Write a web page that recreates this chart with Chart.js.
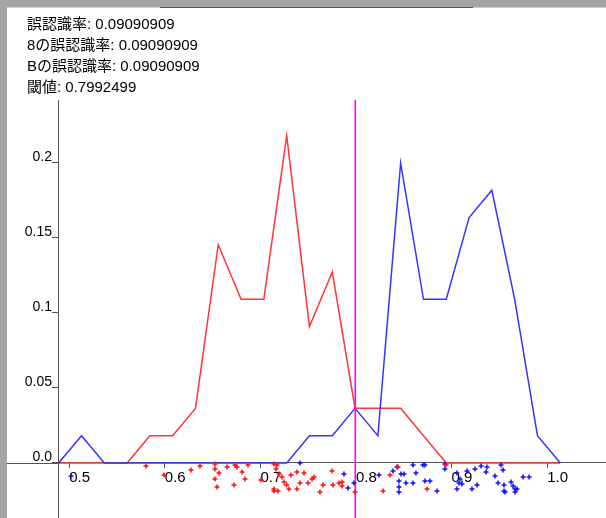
<!DOCTYPE html>
<html>
<head>
<meta charset="utf-8">
<script src="https://cdn.jsdelivr.net/npm/chart.js@4"></script>
<style>
  body { margin: 0; background: #a4a4a4; width: 606px; height: 518px; overflow: hidden; position: relative; }
  #topline1 { position: absolute; left: 7px; top: 7px; width: 153px; height: 1px; background: #d8d8d8; }
  #topline2 { position: absolute; left: 160px; top: 7px; width: 313px; height: 1px; background: #555; }
  #topline3 { position: absolute; left: 473px; top: 7px; width: 133px; height: 1px; background: #c8c8c8; }
  #wrap { position: absolute; left: 7px; top: 8px; width: 599px; height: 510px; background: #fff; }
  canvas { display: block; }
</style>
</head>
<body>
<div id="topline1"></div><div id="topline2"></div><div id="topline3"></div>
<div id="wrap"><canvas id="chartCanvas" width="599" height="510"></canvas></div>
<script>
var headerLines = [
  '誤認識率: 0.09090909',
  '8の誤認識率: 0.09090909',
  'Bの誤認識率: 0.09090909',
  '閾値: 0.7992499'
];

// bin centres (x) and relative frequencies of the two classes
var binX = [0.4890, 0.5129, 0.5367, 0.5605, 0.5844, 0.6082, 0.6321, 0.6559, 0.6798, 0.7036, 0.7275, 0.7513,
            0.7752, 0.7990, 0.8229, 0.8467, 0.8706, 0.8944, 0.9183, 0.9421, 0.9660, 0.9898, 1.0137];
var redFreq = [0, 0, 0, 0, 0.0182, 0.0182, 0.0364, 0.1455, 0.1091, 0.1091, 0.2182, 0.0909,
               0.1273, 0.0364, 0.0364, 0.0364, 0.0182, 0, 0, 0, 0, 0, 0];
var blueFreq = [0, 0.0182, 0, 0, 0, 0, 0, 0, 0, 0, 0, 0.0182,
                0.0182, 0.0364, 0.0182, 0.2, 0.1091, 0.1091, 0.1636, 0.1818, 0.1091, 0.0182, 0];

// samples, drawn below the axis with a little vertical jitter
var redX = [0.5803, 0.5992, 0.6274, 0.6368, 0.6525, 0.6525, 0.6567, 0.6525, 0.6546, 0.6651, 0.6734, 0.6755,
            0.6808, 0.6839, 0.6724, 0.6870, 0.7006, 0.7142, 0.7174, 0.7163, 0.7195, 0.7226, 0.7247, 0.7274,
            0.7142, 0.7184, 0.7142, 0.7319, 0.7382, 0.7456, 0.7299, 0.7382, 0.7414, 0.7498, 0.7540, 0.7561,
            0.7623, 0.7655, 0.7749, 0.7759, 0.7822, 0.7854, 0.7854, 0.7990, 0.8283, 0.8356, 0.8440, 0.8743, 0.8942];
var redY = [-0.002, -0.008, -0.0047, -0.002, -0.0007, -0.004, -0.0067, -0.0107, -0.016, -0.0027, -0.0013, -0.0027,
            -0.006, -0.0107, -0.0147, -0.0013, -0.0113, -0.0007, -0.0013, -0.004, -0.0073, -0.0093, -0.0127, -0.0147,
            -0.0173, -0.0187, -0.0187, -0.008, -0.006, -0.0067, -0.0173, -0.0173, -0.0133, -0.0133, -0.0107, -0.0093,
            -0.0193, -0.0147, -0.0053, -0.0147, -0.0133, -0.0127, -0.0153, -0.0193, -0.0187, -0.008, -0.0027, -0.0173, -0.0013];
var blueX = [0.5019, 0.7414, 0.7874, 0.7916, 0.7979, 0.8240, 0.8387, 0.8429, 0.8471, 0.8502, 0.8450, 0.8523,
             0.8450, 0.8450, 0.8596, 0.8627, 0.8596, 0.8700, 0.8721, 0.8721, 0.8774, 0.8847, 0.8930, 0.8930,
             0.9056, 0.9161, 0.9088, 0.9077, 0.9108, 0.9056, 0.9213, 0.9266, 0.9245, 0.9308, 0.9370, 0.9360,
             0.9454, 0.9517, 0.9538, 0.9486, 0.9548, 0.9548, 0.9559, 0.9622, 0.9643, 0.9664, 0.9684, 0.9664, 0.9748, 0.9811];
var blueY = [-0.0087, 0, -0.0073, -0.0167, -0.0133, -0.008, -0.0053, -0.0027, -0.0073, -0.0073, -0.012, -0.0133,
             -0.016, -0.0193, -0.0013, -0.0067, -0.0133, -0.0013, -0.0013, -0.012, -0.012, -0.0187, -0.0007, -0.004,
             -0.0067, -0.0053, -0.0107, -0.0133, -0.014, -0.0173, -0.0173, -0.0147, -0.004, -0.002, -0.0027, -0.006,
             -0.0087, -0.0013, -0.0047, -0.0133, -0.0147, -0.0187, -0.0193, -0.0127, -0.0153, -0.0173, -0.0173, -0.0193, -0.0093, -0.0093];

var threshold = 0.7992499;
var xTicks = [0.5, 0.6, 0.7, 0.8, 0.9, 1.0];
var yTicks = [0, 0.05, 0.1, 0.15, 0.2];
var xMin = 0.4883, xMax = 1.0615;
var yMin = -0.0367, yMax = 0.242;

function pairs(xs, ys) {
  return xs.map(function(x, i) { return { x: x, y: ys[i] }; });
}

// stop the axes from pulling the plot area in for their end labels
function noPadding(s) {
  s.paddingTop = 0; s.paddingBottom = 0; s.paddingLeft = 0; s.paddingRight = 0;
}

var axisColor = '#555';

var extras = {
  id: 'extras',
  afterDraw: function(chart) {
    var c = chart.ctx;
    var y0 = chart.scales.y.getPixelForValue(0);
    c.save();
    // x axis runs on to the left edge
    c.strokeStyle = axisColor;
    c.lineWidth = 1;
    c.beginPath();
    c.moveTo(0, Math.round(y0) + 0.5);
    c.lineTo(chart.chartArea.left, Math.round(y0) + 0.5);
    c.stroke();
    c.fillStyle = '#000';
    c.font = '15px "Liberation Sans", "Noto Sans CJK JP", sans-serif';
    c.textBaseline = 'middle';
    headerLines.forEach(function(t, i) {
      c.fillText(t, 20, 17 + i * 21);
    });
    c.restore();
  }
};

var ctx = document.getElementById('chartCanvas').getContext('2d');
var chart = new Chart(ctx, {
  type: 'scatter',
  data: {
    datasets: [
      {
        data: pairs(redX, redY),
        pointStyle: 'cross',
        pointRadius: 2.5,
        borderWidth: 1.5,
        borderColor: '#ff1010',
        order: 0
      },
      {
        data: pairs(blueX, blueY),
        pointStyle: 'cross',
        pointRadius: 2.5,
        borderWidth: 1.5,
        borderColor: '#1010ff',
        order: 0
      },
      {
        data: [{ x: threshold, y: yMin }, { x: threshold, y: yMax }],
        showLine: true,
        borderColor: '#ff00ff',
        borderWidth: 1.6,
        pointRadius: 0,
        order: 1
      },
      {
        data: pairs(binX, blueFreq),
        showLine: true,
        borderColor: '#3535ff',
        borderWidth: 1.5,
        pointRadius: 0,
        order: 2
      },
      {
        data: pairs(binX, redFreq),
        showLine: true,
        borderColor: '#ff3535',
        borderWidth: 1.5,
        pointRadius: 0,
        order: 3
      }
    ]
  },
  options: {
    responsive: false,
    animation: false,
    devicePixelRatio: 1,
    layout: { autoPadding: false, padding: { top: 92, left: 0, right: 0, bottom: 0 } },
    plugins: {
      legend: { display: false },
      tooltip: { enabled: false }
    },
    scales: {
      x: {
        type: 'linear',
        min: xMin,
        max: xMax,
        position: { y: 0 },
        afterFit: noPadding,
        afterBuildTicks: function(s) { s.ticks = xTicks.map(function(v) { return { value: v }; }); },
        grid: { drawOnChartArea: false, tickLength: 5, color: axisColor },
        border: { color: axisColor },
        ticks: {
          align: 'start',
          maxRotation: 0,
          autoSkip: false,
          padding: 1,
          color: '#000',
          font: { family: '"Liberation Sans", sans-serif', size: 15 },
          callback: function(v) { return v.toFixed(1); }
        }
      },
      y: {
        type: 'linear',
        min: yMin,
        max: yMax,
        position: 'left',
        afterFit: function(s) { s.width = 51; noPadding(s); },
        afterBuildTicks: function(s) { s.ticks = yTicks.map(function(v) { return { value: v }; }); },
        grid: { drawOnChartArea: false, tickLength: 6, color: axisColor },
        border: { color: axisColor },
        ticks: {
          padding: 0,
          labelOffset: -6,
          color: '#000',
          font: { family: '"Liberation Sans", sans-serif', size: 14 },
          callback: function(v) { return v === 0 ? '0.0' : String(v); }
        }
      }
    }
  },
  plugins: [extras]
});
</script>
</body>
</html>
